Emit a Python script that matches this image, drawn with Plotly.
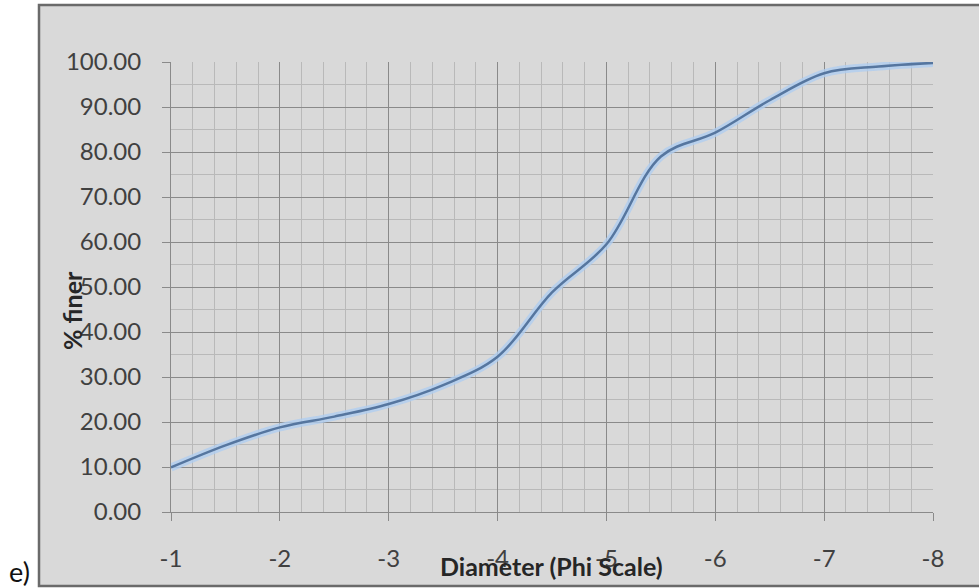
import plotly.graph_objects as go

# Grain-size cumulative curve (phi scale)
phi = [-1, -1.5, -2, -2.5, -3, -3.5, -4, -4.5, -5, -5.5, -6, -6.5, -7, -7.5, -8]
pct_finer = [9.9, 14.8, 18.8, 21.2, 24.0, 28.2, 34.5, 48.8, 59.5, 79.0, 84.3, 91.5, 97.5, 99.0, 99.8]

x_ticks = [-1, -2, -3, -4, -5, -6, -7, -8]
x_tick_text = ["-1", "-2", "-3", "-4", "-5", "-6", "-7", "-8"]
y_ticks = [0, 10, 20, 30, 40, 50, 60, 70, 80, 90, 100]
y_tick_text = [f"{v:.2f}" for v in y_ticks]

W, H = 979, 588
L, R, T, B = 171, 46, 62, 76
pw, ph = W - L - R, H - T - B


def px(x):
    return (x - L) / pw


def py(y):
    return (H - B - y) / ph


FONT = "Lato"
BG = "#d9d9d9"

fig = go.Figure()

# soft glow under the series line
fig.add_trace(go.Scatter(
    x=phi, y=pct_finer, mode="lines",
    line=dict(color="rgba(175,205,240,0.8)", width=8, shape="spline", smoothing=1.0),
    hoverinfo="skip", showlegend=False,
))
fig.add_trace(go.Scatter(
    x=phi, y=pct_finer, mode="lines",
    line=dict(color="#56769f", width=2.5, shape="spline", smoothing=1.0),
    showlegend=False,
))

fig.update_xaxes(
    range=[-1, -8], tickvals=x_ticks, ticktext=x_tick_text,
    showgrid=True, gridcolor="#8a8a8a", gridwidth=1,
    minor=dict(dtick=0.2, tick0=-1, showgrid=True, gridcolor="#b9b9b9", gridwidth=1),
    ticks="outside", ticklen=8, tickcolor="#8a8a8a",
    showline=True, linecolor="#8a8a8a", linewidth=1,
    tickfont=dict(family=FONT, size=24, color="#404040"),
    ticklabelstandoff=17, zeroline=False,
)
fig.update_yaxes(
    range=[0, 100], tickvals=y_ticks, ticktext=y_tick_text,
    showgrid=True, gridcolor="#8a8a8a", gridwidth=1,
    minor=dict(dtick=5, showgrid=True, gridcolor="#b9b9b9", gridwidth=1),
    ticks="outside", ticklen=8, tickcolor="#8a8a8a",
    showline=True, linecolor="#8a8a8a", linewidth=1,
    tickfont=dict(family=FONT, size=24, color="#404040"),
    ticklabelstandoff=16, zeroline=False,
)

# chart frame
fig.add_shape(
    type="rect", xref="paper", yref="paper", layer="below",
    x0=px(39), x1=px(W + 10), y0=py(586), y1=py(5),
    fillcolor=BG, line=dict(color="#6a6a6a", width=2.5),
)

fig.add_annotation(
    text="<b>Diameter (Phi Scale)</b>", xref="paper", yref="paper",
    x=px(551), y=py(566), xanchor="center", yanchor="middle", showarrow=False,
    font=dict(family=FONT, size=25, color="#262626"),
)
fig.add_annotation(
    text="<b>% finer</b>", xref="paper", yref="paper",
    x=px(72), y=py(311), xanchor="center", yanchor="middle", showarrow=False,
    textangle=-90,
    font=dict(family=FONT, size=25, color="#262626"),
)
fig.add_annotation(
    text="e)", xref="paper", yref="paper",
    x=px(19), y=py(571), xanchor="center", yanchor="middle", showarrow=False,
    font=dict(family=FONT, size=27, color="#111111"),
)

fig.update_layout(
    width=W, height=H,
    margin=dict(l=L, r=R, t=T, b=B),
    paper_bgcolor="white", plot_bgcolor=BG,
    showlegend=False,
)

fig.write_html("out.html")
